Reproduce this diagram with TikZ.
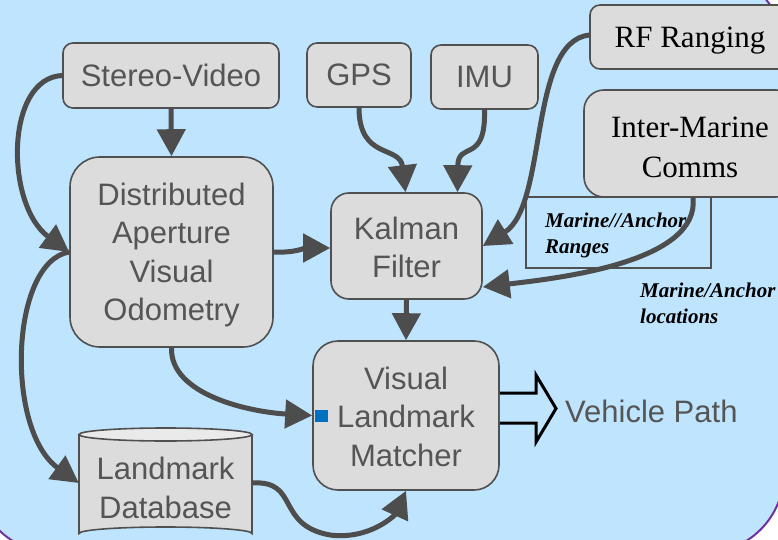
\documentclass[tikz,border=0pt]{standalone}
\usepackage{fontspec}
\setmainfont{Liberation Serif}
\newfontfamily\boxfont{Liberation Sans}
\usetikzlibrary{arrows.meta}
\definecolor{bgblue}{RGB}{190,228,254}
\definecolor{frame}{RGB}{112,48,160}
\definecolor{boxfill}{RGB}{220,220,220}
\definecolor{boxline}{RGB}{80,80,80}
\definecolor{boxtext}{RGB}{85,85,85}
\definecolor{linkgray}{RGB}{77,77,77}
\definecolor{portblue}{RGB}{0,112,192}
\tikzset{
  x=1pt, y=-1pt,
  block/.style={draw=boxline, fill=boxfill, line width=1.6pt, inner sep=0pt},
  sanstext/.style={align=center, inner sep=0pt,
    font=\boxfont\fontsize{31}{38.5}\selectfont, text=boxtext},
  seriftext/.style={align=center, inner sep=0pt,
    font=\fontsize{31}{40}\selectfont, text=black},
  link/.style={draw=linkgray, line width=5pt,
    -{Triangle[length=27pt,width=28pt]}},
  note/.style={font=\bfseries\itshape\fontsize{21}{25.5}\selectfont,
    align=left, inner sep=0pt, anchor=base west},
}
\begin{document}
\begin{tikzpicture}
\useasboundingbox (0,0) rectangle (778,540);
\clip (0,0) rectangle (778,540);
% page and slide panel
\fill[white] (0,0) rectangle (778,540);
\draw[fill=bgblue, draw=frame, line width=2pt, rounded corners=80pt]
  (-25,-30) rectangle (784,553);

% boxes
\node[block, rounded corners=10pt, minimum width=216pt, minimum height=65pt]
  (sv) at (171,75.5) {};
\node[sanstext] (svt) at (sv.center) {Stereo-Video};
\node[block, rounded corners=10pt, minimum width=104pt, minimum height=64pt]
  (gps) at (359,75) {};
\node[sanstext] (gpst) at (gps.center) {GPS};
\node[block, rounded corners=10pt, minimum width=107pt, minimum height=64pt]
  (imu) at (484.5,77) {};
\node[sanstext] (imut) at (imu.center) {IMU};
\node[block, rounded corners=10pt, minimum width=200pt, minimum height=64pt]
  (rf) at (690,37) {};
\node[seriftext] (rft) at ([yshift=-4pt]rf.center) {RF Ranging};
\node[block, rounded corners=20pt, minimum width=212pt, minimum height=107pt]
  (imc) at (690,143.5) {};
\node[seriftext] (imct) at ([yshift=-4pt]imc.center) {Inter-Marine\\Comms};
\node[block, rounded corners=30pt, minimum width=203pt, minimum height=190pt]
  (dav) at (171.5,252) {};
\node[sanstext] (davt) at ([yshift=-3pt]dav.center)
  {Distributed\\Aperture\\Visual\\Odometry};
\node[block, rounded corners=18pt, minimum width=151pt, minimum height=106pt]
  (kf) at (406.5,246) {};
\node[sanstext] (kft) at ([yshift=-1.5pt]kf.center) {Kalman\\Filter};
\node[block, rounded corners=25pt, minimum width=186pt, minimum height=149pt]
  (vlm) at (406,415.5) {};
\node[sanstext] (vlmt) at ([yshift=-1pt]vlm.center) {Visual\\Landmark\\Matcher};

% landmark database cylinder
\node[inner sep=0pt, minimum width=173pt, minimum height=112pt] (ldb) at (165.5,484) {};
\draw[draw=boxline, fill=boxfill, line width=1.6pt]
  (79,434.5) -- (79,533.5) arc[start angle=180, end angle=360, x radius=86.5, y radius=6.5]
  -- (252,434.5);
\draw[draw=boxline, fill=boxfill!60!white, line width=1.6pt]
  (165.5,434.5) ellipse[x radius=86.5, y radius=6.5];
\node[sanstext] (ldbt) at ([yshift=-4pt]ldb.center) {Landmark\\Database};

% range label box
\node[draw=boxline, line width=1.5pt, minimum width=185pt, minimum height=71pt,
  inner sep=0pt] (rbox) at (618.5,232.5) {};

% connectors
\draw[link] (sv.west) .. controls (5,78) and (5,205) .. (dav.west);
\draw[link] (sv.south) -- (dav.north);
\draw[link] (dav.west) .. controls (10,262) and (5,430) .. ([yshift=1pt]ldb.west);
\draw[link] (dav.east) .. controls (295,253) and (305,248) .. ([yshift=-2pt]kf.west);
\draw[link] (dav.south) .. controls (170,395) and (250,412) .. (vlm.west);
\draw[link] (gps.south) .. controls (359,160) and (400,145) .. ([xshift=-1pt]kf.north);
\draw[link] (imu.south) .. controls (486,165) and (458,140) .. ([xshift=51pt]kf.north);
\draw[link] ([yshift=2pt]rf.west) .. controls (528,42) and (548,205) .. (kf.east);
\draw[link] ([xshift=3pt]imc.south) .. controls (700,262) and (560,278) .. ([yshift=-41pt]kf.east);
\draw[link] ([yshift=1pt]ldb.east) .. controls (300,480) and (275,525) .. (330,535)
  .. controls (370,540) and (395,515) .. (vlm.south);
\draw[link] (kf.south) -- (vlm.north);

% input port on the matcher
\fill[portblue] (315,410) rectangle (328,422);

% hollow output arrow
\draw[black, line width=3pt, fill=bgblue, line join=miter]
  (vlm.east |- 0,393) -- (536,393) -- (536,375) -- (556,408.5) -- (536,442)
  -- (536,423) -- (vlm.east |- 0,423);
\node[font=\boxfont\fontsize{31}{38}\selectfont, text=boxtext, anchor=base west,
  inner sep=0pt] (vp) at (565,422) {Vehicle Path};

% range notes (anchored at the baseline of their last line)
\node[note] (rlab) at (545,253) {Marine//Anchor\\Ranges};
\node[note] (llab) at (640,323) {Marine/Anchor\\locations};
\end{tikzpicture}
\end{document}
